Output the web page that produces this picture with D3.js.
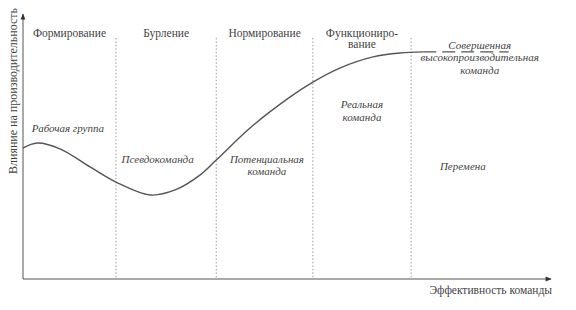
<!DOCTYPE html>
<html>
<head>
<meta charset="utf-8">
<script src="https://cdn.jsdelivr.net/npm/d3@7"></script>
<style>
  body { margin: 0; background: #fff; }
  svg text { font-family: "Liberation Serif", Tinos, "Times New Roman", serif; fill: #444; font-size: 11.5px; }
  svg text.note { font-style: italic; font-size: 11px; }
  svg text.ylabel { font-size: 12px; }
</style>
</head>
<body>
<div class="chart"></div>
<script>
var svgWidth = 576;
var svgHeight = 310;

// stage headers and their boundaries (effectiveness units, 0..100)
var stages = [["Формирование"], ["Бурление"], ["Нормирование"], ["Функциониро-", "вание"]];
var stageBounds = [0, 17.6, 36.6, 54.9, 73.5];

// performance curve
var curveX = [0, 2.7, 7.0, 12.7, 17.6, 24.1, 28.8, 33.5, 36.6, 43.0, 50.6, 54.9, 60.0, 66.3, 71.4, 75.8];
var curveY = [49.4, 51.3, 49.1, 42.3, 36.6, 31.7, 33.6, 39.2, 44.9, 57.0, 68.7, 74.3, 79.6, 83.8, 85.3, 85.7];
var dashX = [75.8, 92];
var dashY = [85.7, 85.7];

// team type labels
var noteText = [["Рабочая группа"], ["Псевдокоманда"], ["Потенциальная", "команда"], ["Реальная", "команда"],
  ["Совершенная", "высокопроизводительная", "команда"], ["Перемена"]];
var noteX = [8.5, 25.5, 46.2, 64.2, 86.5, 83.3];
var noteY = [55.4, 43.8, 43.8, 64.5, 86.8, 41.1];

var margin = { top: 14, right: 25, bottom: 31, left: 23 };
var width = svgWidth - margin.left - margin.right;
var height = svgHeight - margin.top - margin.bottom;

var svg = d3.select(".chart")
  .append("svg")
  .attr("width", svgWidth)
  .attr("height", svgHeight);

var chartGroup = svg.append("g")
  .attr("transform", `translate(${margin.left}, ${margin.top})`);

var x = d3.scaleLinear().domain([0, 100]).range([0, width]);
var y = d3.scaleLinear().domain([0, 100]).range([height, 0]);

svg.append("defs").append("marker")
  .attr("id", "arrow")
  .attr("viewBox", "0 0 10 10")
  .attr("refX", 9).attr("refY", 5)
  .attr("markerWidth", 9).attr("markerHeight", 6)
  .attr("markerUnits", "userSpaceOnUse")
  .attr("orient", "auto")
  .append("path")
  .attr("d", "M0,1 L10,5 L0,9 Z")
  .attr("fill", "#333");

// stage dividers
chartGroup.selectAll("line.divider")
  .data(stageBounds.slice(1))
  .enter()
  .append("line")
  .attr("class", "divider")
  .attr("x1", d => x(d)).attr("x2", d => x(d))
  .attr("y1", y(91)).attr("y2", y(0))
  .attr("stroke", "#999")
  .attr("stroke-width", 1)
  .attr("stroke-dasharray", "1.5,2");

// axes
chartGroup.append("line")
  .attr("x1", x(0)).attr("y1", y(0))
  .attr("x2", x(100)).attr("y2", y(0))
  .attr("stroke", "#555").attr("stroke-width", 1)
  .attr("marker-end", "url(#arrow)");

chartGroup.append("line")
  .attr("x1", x(0)).attr("y1", y(0))
  .attr("x2", x(0)).attr("y2", y(100))
  .attr("stroke", "#555").attr("stroke-width", 1)
  .attr("marker-end", "url(#arrow)");

// stage headers
stages.forEach(function(lines, i) {
  var cx = (x(stageBounds[i]) + x(stageBounds[i + 1])) / 2;
  var t = chartGroup.append("text")
    .attr("class", "stage")
    .attr("text-anchor", "middle")
    .attr("x", cx)
    .attr("y", y(91.5));
  lines.forEach(function(s, j) {
    t.append("tspan").attr("x", cx).attr("dy", j ? 11.5 : 0).text(s);
  });
});

// curve
var line = d3.line()
  .x(d => x(d[0]))
  .y(d => y(d[1]))
  .curve(d3.curveCatmullRom);

chartGroup.append("path")
  .datum(d3.zip(curveX, curveY))
  .attr("d", line)
  .attr("fill", "none")
  .attr("stroke", "#555")
  .attr("stroke-width", 1.4);

chartGroup.append("path")
  .datum(d3.zip(dashX, dashY))
  .attr("d", d3.line().x(d => x(d[0])).y(d => y(d[1])))
  .attr("fill", "none")
  .attr("stroke", "#555")
  .attr("stroke-width", 1.4)
  .attr("stroke-dasharray", "13,6");

// team labels
noteText.forEach(function(lines, i) {
  var t = chartGroup.append("text")
    .attr("class", "note")
    .attr("text-anchor", "middle")
    .attr("x", x(noteX[i]))
    .attr("y", y(noteY[i]));
  lines.forEach(function(s, j) {
    t.append("tspan").attr("x", x(noteX[i])).attr("dy", j ? 12.5 : 0).text(s);
  });
});

// axis titles
svg.append("text")
  .attr("class", "ylabel")
  .attr("transform", "rotate(-90)")
  .attr("x", -91)
  .attr("y", 17)
  .attr("text-anchor", "middle")
  .text("Влияние на производительность");

svg.append("text")
  .attr("class", "axisText")
  .attr("x", 552)
  .attr("y", 294)
  .attr("text-anchor", "end")
  .text("Эффективность команды");
</script>
</body>
</html>
